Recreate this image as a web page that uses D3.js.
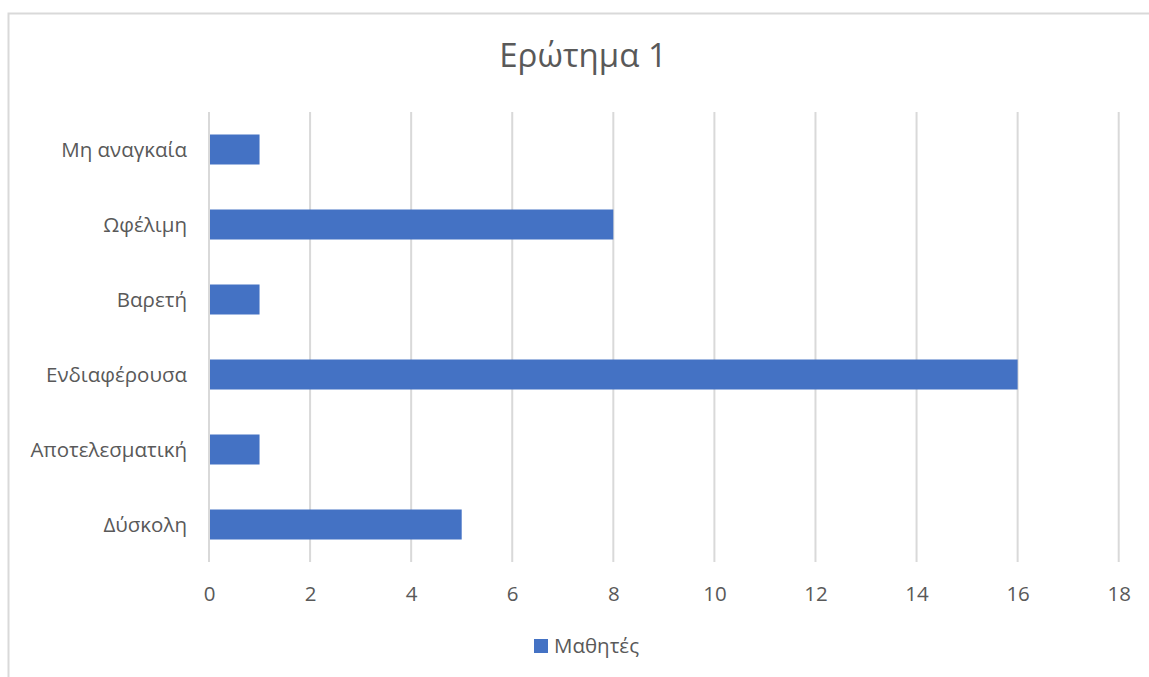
<!DOCTYPE html>
<html>
<head>
<meta charset="utf-8">
<script src="https://cdn.jsdelivr.net/npm/d3@7"></script>
<style>
  html, body { margin: 0; padding: 0; background: #fff; }
  svg { display: block; font-family: "Open Sans", "Noto Sans", sans-serif; }
</style>
</head>
<body>
<svg id="chart" width="1149" height="677"></svg>
<script>
// Categories listed top to bottom as they appear on the vertical axis
const categories = ["Μη αναγκαία", "Ωφέλιμη", "Βαρετή", "Ενδιαφέρουσα", "Αποτελεσματική", "Δύσκολη"];
const values = [1, 8, 1, 16, 1, 5];
const xTicks = [0, 2, 4, 6, 8, 10, 12, 14, 16, 18];
const seriesName = "Μαθητές";
const title = "Ερώτημα 1";

const svg = d3.select("#chart");
const W = 1149, H = 677;
const plot = { left: 209, right: 1118.7, top: 112, bottom: 562 };
const barColor = "#4472C4";
const textColor = "#595959";
const gridColor = "#d9d9d9";
const labelSize = "20.5px";

// outer chart frame
svg.append("rect")
  .attr("x", 8.5).attr("y", 13.5)
  .attr("width", W + 10).attr("height", H + 10)
  .attr("fill", "#fff")
  .attr("stroke", gridColor).attr("stroke-width", 2);

const x = d3.scaleLinear().domain([0, 18]).range([plot.left, plot.right]);
const y = d3.scaleBand().domain(categories).range([plot.top, plot.bottom]).paddingInner(0.6).paddingOuter(0.3);

// vertical gridlines
svg.append("g")
  .selectAll("line")
  .data(xTicks)
  .join("line")
  .attr("x1", d => x(d)).attr("x2", d => x(d))
  .attr("y1", plot.top).attr("y2", plot.bottom)
  .attr("stroke", gridColor).attr("stroke-width", 2);

// bars
svg.append("g")
  .selectAll("rect")
  .data(categories.map((c, i) => ({ c, v: values[i] })))
  .join("rect")
  .attr("x", x(0) + 1)
  .attr("y", d => y(d.c))
  .attr("width", d => x(d.v) - x(0) - 1)
  .attr("height", y.bandwidth())
  .attr("fill", barColor);

// x axis labels
const xAxis = d3.axisBottom(x).tickValues(xTicks).tickSize(0).tickPadding(0);
const gx = svg.append("g").attr("transform", `translate(0,${plot.bottom + 39})`).call(xAxis);
gx.select(".domain").remove();
gx.selectAll("text")
  .attr("dy", null)
  .attr("fill", textColor)
  .style("font-size", labelSize)
  .style("font-family", "\"Open Sans\", sans-serif");

// y axis labels
const yAxis = d3.axisLeft(y).tickSize(0).tickPadding(22);
const gy = svg.append("g").attr("transform", `translate(${plot.left},0)`).call(yAxis);
gy.select(".domain").remove();
gy.selectAll("text")
  .attr("fill", textColor)
  .attr("dy", "0.35em")
  .style("font-size", labelSize)
  .style("font-family", "\"Open Sans\", sans-serif");

// title
svg.append("text")
  .attr("x", 583).attr("y", 67)
  .attr("text-anchor", "middle")
  .attr("fill", textColor)
  .style("font-size", "33px")
  .text(title);

// legend
const lg = svg.append("g").attr("transform", "translate(534,639)");
lg.append("rect").attr("width", 14).attr("height", 14).attr("fill", barColor);
lg.append("text")
  .attr("x", 20).attr("y", 7).attr("dy", "0.35em")
  .attr("fill", textColor)
  .style("font-size", labelSize)
  .text(seriesName);
</script>
</body>
</html>
